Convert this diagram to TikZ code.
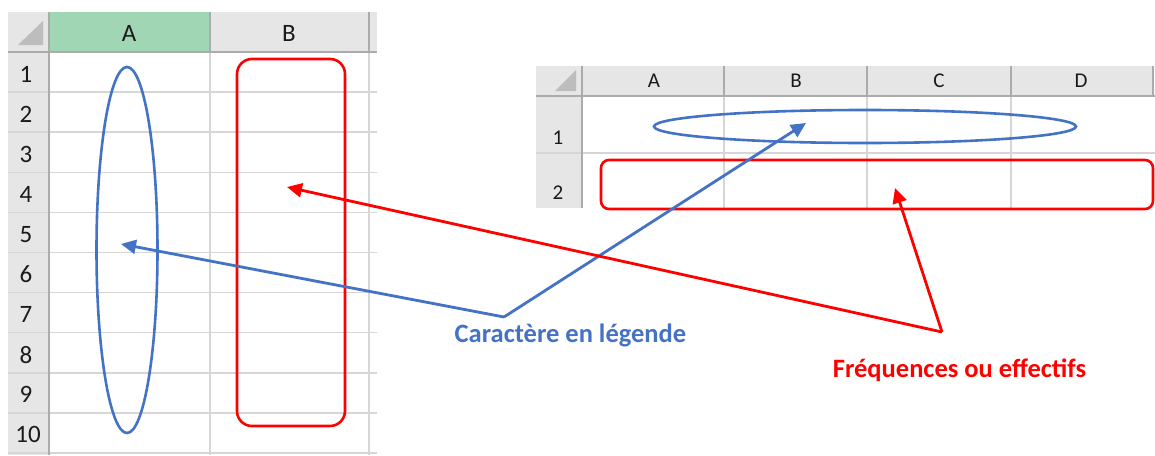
\documentclass[tikz,border=0pt]{standalone}
\usepackage{fontspec}
\setmainfont{Carlito}
\usetikzlibrary{shapes.geometric,arrows.meta}
\definecolor{xlblue}{HTML}{4472C4}
\definecolor{xlred}{HTML}{FF0000}
\definecolor{hdr}{HTML}{E6E6E6}
\definecolor{hdrline}{HTML}{ABABAB}
\definecolor{gridc}{HTML}{D6D6D6}
\definecolor{selhdr}{HTML}{A0D6B4}
\definecolor{tric}{HTML}{BDBDBD}
\definecolor{lbl}{HTML}{1A1A1A}
\tikzset{
  gridline/.style={draw=gridc, line width=1.5pt},
  hdrborder/.style={draw=hdrline, line width=1.5pt},
  biglbl/.style={text=lbl, font=\fontsize{25}{28}\selectfont, inner sep=0},
  smalllbl/.style={text=lbl, font=\fontsize{21}{24}\selectfont, inner sep=0},
  blueshape/.style={draw=xlblue, line width=2.6pt, inner sep=0},
  redshape/.style={draw=xlred, line width=2.6pt, inner sep=0},
  bluearrow/.style={draw=xlblue, line width=2.8pt, -{Triangle[length=15pt,width=14pt]}},
  redarrow/.style={draw=xlred, line width=2.8pt, -{Triangle[length=15pt,width=14pt]}},
  legend/.style={font=\bfseries\fontsize{26.5}{30}\selectfont, inner sep=0, anchor=base}
}
\begin{document}
\begin{tikzpicture}[x=1pt,y=-1pt]
\useasboundingbox (0,0) rectangle (1155,455);
\fill[white] (0,0) rectangle (1155,455);
% ---------- left sheet ----------
\fill[hdr] (8,12) rectangle (377,52);
\fill[hdr] (8,52) rectangle (49,455);
\fill[selhdr] (49,12) rectangle (210,51);
\fill[tric] (18,45) -- (43,45) -- (43,21) -- cycle;
\foreach \i in {1,...,10}{
  \draw[gridline] (8,{52+40.1*\i}) -- (377,{52+40.1*\i});
}
\draw[gridline] (210,52) -- (210,455);
\draw[gridline] (369,52) -- (369,455);
\draw[hdrborder] (210,12) -- (210,52);
\draw[hdrborder] (369,12) -- (369,52);
\draw[hdrborder] (8,52) -- (377,52);
\draw[hdrborder] (49,12) -- (49,455);
\node[biglbl] (hA) at (129,33) {A};
\node[biglbl] (hB) at (289,33) {B};
\foreach \i in {1,...,9}{
  \node[biglbl] (r\i) at (26,{52+40.1*(\i-0.5)+2}) {\i};
}
\node[biglbl] (r10) at (28,{52+40.1*9.5+2}) {10};
% ---------- right sheet ----------
\fill[hdr] (536,66) rectangle (1153,96);
\fill[hdr] (536,96) rectangle (582,208);
\fill[tric] (555,91) -- (576,91) -- (576,70) -- cycle;
\draw[gridline] (536,153) -- (1155,153);
\foreach \x in {724,867,1011}{
  \draw[gridline] (\x,96) -- (\x,208);
  \draw[hdrborder] (\x,66) -- (\x,96);
}
\draw[hdrborder] (1153,66) -- (1153,96);
\draw[hdrborder] (536,96) -- (1155,96);
\draw[hdrborder] (582,66) -- (582,208);
\node[smalllbl] (hA2) at (654,81) {A};
\node[smalllbl] (hB2) at (796,81) {B};
\node[smalllbl] (hC2) at (939,81) {C};
\node[smalllbl] (hD2) at (1081,81) {D};
\node[smalllbl] (r1b) at (558,138) {1};
\node[smalllbl] (r2b) at (558,193) {2};
% ---------- highlight shapes ----------
\node[blueshape, ellipse, minimum width=61pt, minimum height=366pt] (ellA) at (127,250) {};
\node[redshape, rounded corners=15pt, minimum width=108pt, minimum height=367pt] (recB) at (291,242.5) {};
\node[blueshape, ellipse, minimum width=422pt, minimum height=33pt] (ell1) at (865,126.5) {};
\node[redshape, rounded corners=8pt, minimum width=552pt, minimum height=49pt] (rec2) at (877,184.5) {};
% ---------- legends ----------
\node[legend, text=xlblue] (lblblue) at (570.5,342) {Caractère en légende};
\node[legend, text=xlred] (lblred) at (959.5,377) {Fréquences ou effectifs};
\coordinate (bj) at (504,317);
\coordinate (rj) at (942,332);
\coordinate (tipA) at (121,244);
\coordinate (tip1) at (806,123);
\coordinate (tipB) at (287,187);
\coordinate (tip2) at (895,188);
\draw[bluearrow] (bj) -- (tipA);
\draw[bluearrow] (bj) -- (tip1);
\draw[redarrow] (rj) -- (tipB);
\draw[redarrow] (rj) -- (tip2);
\end{tikzpicture}
\end{document}
